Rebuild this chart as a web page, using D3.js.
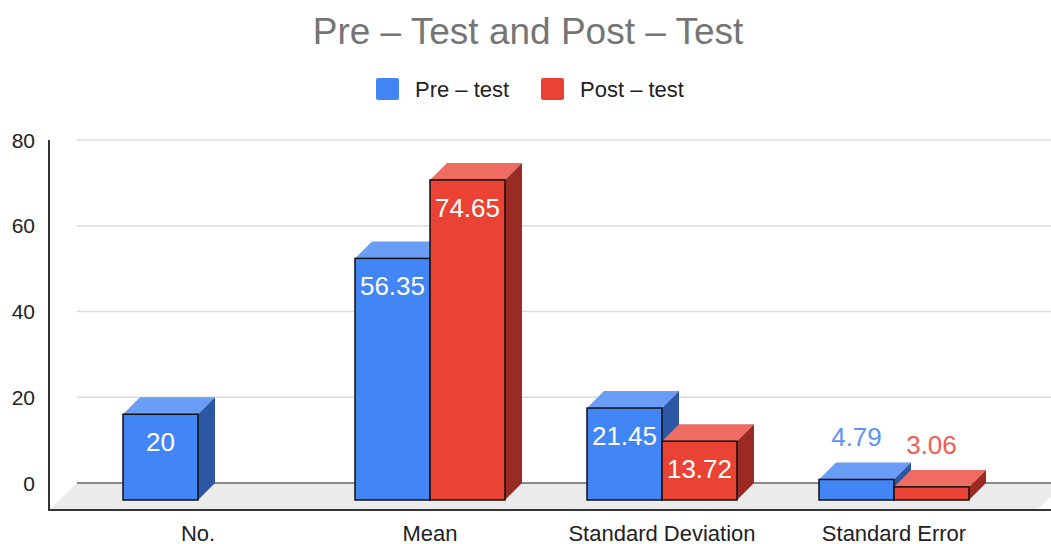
<!DOCTYPE html>
<html>
<head>
<meta charset="utf-8">
<script src="https://cdn.jsdelivr.net/npm/d3@7"></script>
<style>
  body { margin: 0; background: #fff; }
  svg { display: block; font-family: Arial, "Liberation Sans", sans-serif; }
</style>
</head>
<body>
<div id="grafico"></div>
<script>
// 1. datos
const categorias = ['No.', 'Mean', 'Standard Deviation', 'Standard Error'];
const series     = ['Pre – test', 'Post – test'];
const valoresPre  = [20, 56.35, 21.45, 4.79];
const valoresPost = [null, 74.65, 13.72, 3.06];
const etiquetasPre  = ['20', '56.35', '21.45', '4.79'];
const etiquetasPost = ['', '74.65', '13.72', '3.06'];
const ticksY = [0, 20, 40, 60, 80];

// 2. configuracion
const ANCHO = 1051, ALTO = 544;
const PROF = 17;          // profundidad de las barras (px)
const COLORES = {
  frente: ['#4285f4', '#ea4335'],
  arriba: ['#6a9df6', '#ee6c61'],
  lado:   ['#2c57a5', '#9a2b22'],
  texto:  ['#5a95f5', '#ed5d50']
};

const svg = d3.select('#grafico').append('svg')
  .attr('width', ANCHO).attr('height', ALTO);

// escala y en el plano trasero
const fy = d3.scaleLinear().domain([0, 80]).range([483, 140]);
const fx = d3.scaleBand().domain(categorias)
  .range([82, 1010]).paddingInner(0.3534).paddingOuter(0.1767);
const fs = d3.scaleBand().domain(series).range([0, fx.bandwidth()]);

// titulo
svg.append('text')
  .attr('x', 528).attr('y', 44)
  .attr('text-anchor', 'middle')
  .attr('font-size', 37)
  .attr('fill', '#757575')
  .text('Pre – Test and Post – Test');

// leyenda
const leyX = [376, 541];
series.forEach((s, i) => {
  svg.append('rect')
    .attr('x', leyX[i]).attr('y', 78)
    .attr('width', 23).attr('height', 22).attr('rx', 2)
    .attr('fill', COLORES.frente[i]);
  svg.append('text')
    .attr('x', leyX[i] + 39).attr('y', 97)
    .attr('font-size', 22)
    .attr('fill', '#222')
    .text(s);
});

// lineas de cuadricula (plano trasero)
svg.append('g').selectAll('line').data(ticksY.filter(d => d > 0))
  .enter().append('line')
  .attr('x1', 77).attr('x2', ANCHO)
  .attr('y1', d => fy(d)).attr('y2', d => fy(d))
  .attr('stroke', '#dcdcdc').attr('stroke-width', 1.5);

// piso
const yPisoFrente = fy(0) + 27;
svg.append('polygon')
  .attr('points', [[49, yPisoFrente], [77, fy(0)], [1065, fy(0)], [1037, yPisoFrente]].join(' '))
  .attr('fill', '#ebebeb');

svg.append('line')
  .attr('x1', 77).attr('x2', ANCHO)
  .attr('y1', fy(0)).attr('y2', fy(0))
  .attr('stroke', '#666').attr('stroke-width', 1.5);

// etiquetas eje y
svg.append('g').selectAll('text').data(ticksY)
  .enter().append('text')
  .attr('x', 35).attr('y', d => fy(d))
  .attr('dy', '0.36em')
  .attr('text-anchor', 'end')
  .attr('font-size', 21)
  .attr('fill', '#222')
  .text(d => d);

// barras
const datos = [];
categorias.forEach((c, i) => {
  [valoresPre[i], valoresPost[i]].forEach((v, j) => {
    if (v === null) return;
    datos.push({ cat: c, serie: series[j], idx: j, valor: v,
                 etiqueta: j === 0 ? etiquetasPre[i] : etiquetasPost[i] });
  });
});

const gBarras = svg.append('g');
datos.forEach(d => {
  const x0 = fx(d.cat) + fs(d.serie);
  const x1 = x0 + fs.bandwidth();
  const yb = fy(0) + PROF;            // base frontal
  const yt = fy(d.valor) + PROF;      // tope frontal
  const g = gBarras.append('g');

  g.append('polygon')
    .attr('points', [[x0, yt], [x0 + PROF, yt - PROF], [x1 + PROF, yt - PROF], [x1, yt]].join(' '))
    .attr('fill', COLORES.arriba[d.idx]);
  g.append('polygon')
    .attr('points', [[x1, yt], [x1 + PROF, yt - PROF], [x1 + PROF, yb - PROF], [x1, yb]].join(' '))
    .attr('fill', COLORES.lado[d.idx]);
  g.append('rect')
    .attr('x', x0).attr('y', yt)
    .attr('width', x1 - x0).attr('height', yb - yt)
    .attr('fill', COLORES.frente[d.idx])
    .attr('stroke', '#111').attr('stroke-width', 1.5);

  const dentro = (yb - yt) > 45;
  g.append('text')
    .attr('x', (x0 + x1) / 2)
    .attr('y', dentro ? yt + 37 : yt - 33)
    .attr('text-anchor', 'middle')
    .attr('font-size', 26)
    .attr('fill', dentro ? '#fff' : COLORES.texto[d.idx])
    .text(d.etiqueta);
});

// ejes
svg.append('line')
  .attr('x1', 49).attr('x2', 49)
  .attr('y1', 140).attr('y2', yPisoFrente + 1)
  .attr('stroke', '#333').attr('stroke-width', 2);
svg.append('line')
  .attr('x1', 48).attr('x2', ANCHO)
  .attr('y1', yPisoFrente).attr('y2', yPisoFrente)
  .attr('stroke', '#333').attr('stroke-width', 2);

// etiquetas categorias
svg.append('g').selectAll('text').data(categorias)
  .enter().append('text')
  .attr('x', d => fx(d) + fx.bandwidth() / 2)
  .attr('y', 541)
  .attr('text-anchor', 'middle')
  .attr('font-size', 22)
  .attr('fill', '#222')
  .text(d => d);
</script>
</body>
</html>
